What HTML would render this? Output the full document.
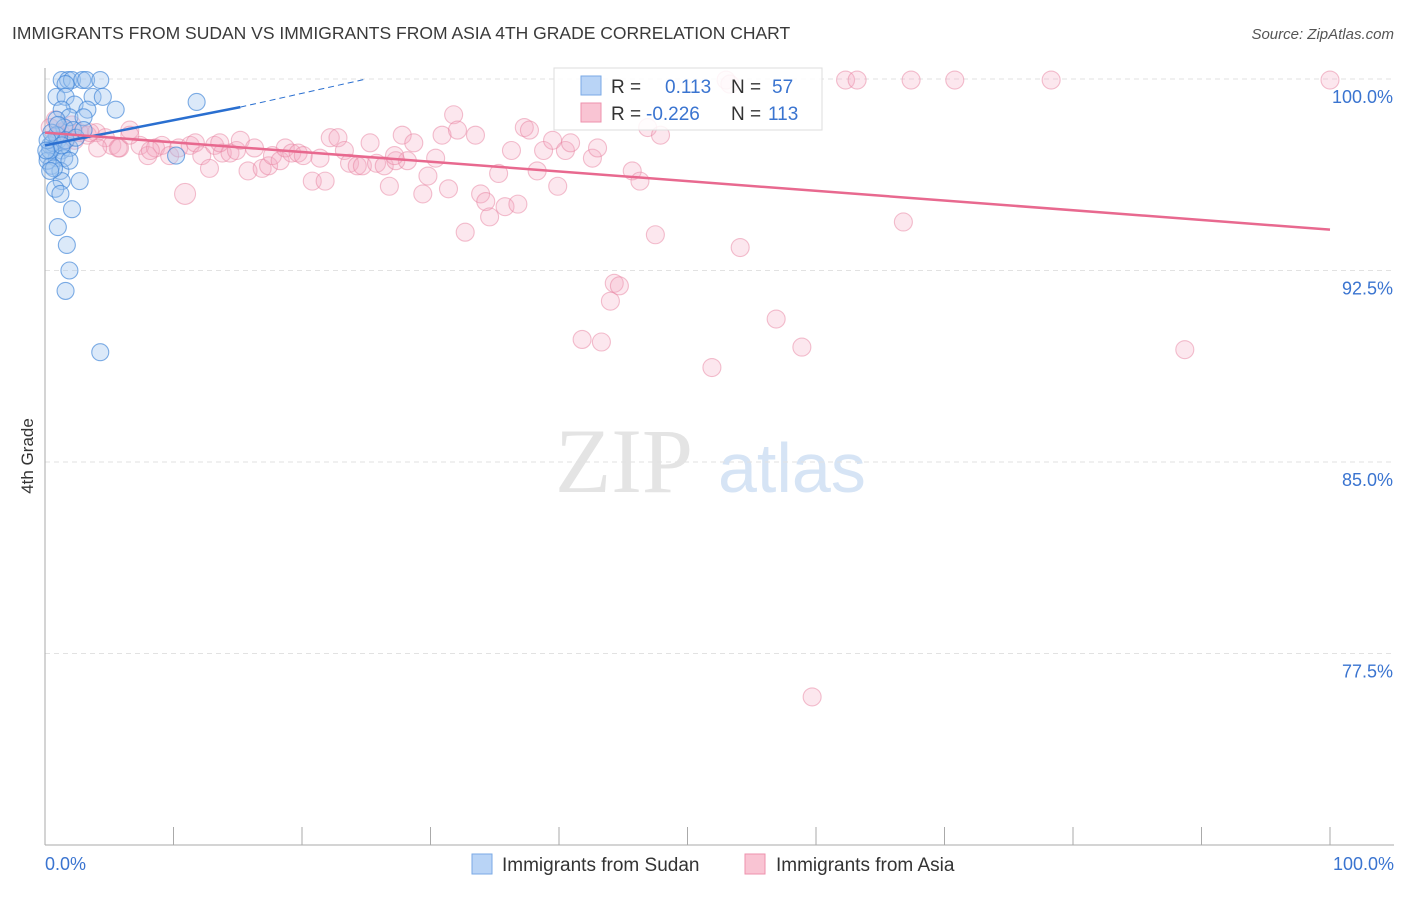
<!DOCTYPE html>
<html><head><meta charset="utf-8"><style>
body{margin:0;background:#fff;font-family:"Liberation Sans",sans-serif}
</style></head><body>
<svg id="c" width="1406" height="892" xmlns="http://www.w3.org/2000/svg">
<text x="12" y="39" font-size="17.5" fill="#3a3a3a">IMMIGRANTS FROM SUDAN VS IMMIGRANTS FROM ASIA 4TH GRADE CORRELATION CHART</text>
<text x="1394" y="39" font-size="15" fill="#555" text-anchor="end" font-style="italic">Source: ZipAtlas.com</text>
<text x="555" y="492" font-size="92" fill="#e4e4e4" font-family="Liberation Serif,serif">ZIP</text>
<text x="718" y="492" font-size="70" fill="#d6e4f5">atlas</text>
<g id="grid"></g><g id="axes"></g><g id="pts"></g><g id="trend"></g>
<text transform="translate(33,456) rotate(-90)" font-size="17" fill="#333" text-anchor="middle">4th Grade</text>
<g>
<rect x="554" y="68" width="268" height="62" fill="rgba(255,255,255,0.85)" stroke="#ddd"/>
<rect x="581" y="76" width="20" height="19" fill="#b9d4f6" stroke="#7aa9e6"/>
<rect x="581" y="103" width="20" height="19" fill="#f9c4d3" stroke="#ee92ad"/>
<text x="611" y="93" font-size="19" fill="#333">R = </text><text x="665" y="93" font-size="19" fill="#3a74d0">0.113</text>
<text x="731" y="93" font-size="19" fill="#333">N = </text><text x="772" y="93" font-size="19" fill="#3a74d0">57</text>
<text x="611" y="120" font-size="19" fill="#333">R = </text><text x="646" y="120" font-size="19" fill="#3a74d0">-0.226</text>
<text x="731" y="120" font-size="19" fill="#333">N = </text><text x="768" y="120" font-size="19" fill="#3a74d0">113</text>
</g>
<g>
<rect x="472" y="854" width="20" height="20" fill="#b9d4f6" stroke="#7aa9e6"/>
<text x="502" y="871" font-size="19" fill="#333">Immigrants from Sudan</text>
<rect x="745" y="854" width="20" height="20" fill="#f9c4d3" stroke="#ee92ad"/>
<text x="776" y="871" font-size="19" fill="#333">Immigrants from Asia</text>
</g>
</svg>
<script>
const yTicks=[100,92.5,85,77.5];
const yTickLabels=["100.0%","92.5%","85.0%","77.5%"];
const xTickLabels=["0.0%","100.0%"];
const sudanX=[1.3,1.8,2.1,2.9,3.2,4.3,1.6,0.9,1.6,3.7,4.5,2.3,1.3,3.3,5.5,1.9,3.0,11.8,0.9,1.5,2.2,1.0,0.7,1.3,1.9,0.2,0.9,1.5,0.5,1.2,0.4,0.6,2.7,1.3,0.8,1.2,2.1,1.0,1.7,1.9,1.6,4.3,10.2,0.2,0.4,0.9,1.6,2.4,3.0,0.5,1.0,0.2,0.7,1.3,1.9,0.1,0.4];
const sudanY=[99.96,99.96,99.96,99.96,99.96,99.96,99.8,99.3,99.3,99.3,99.3,99.0,98.8,98.8,98.8,98.5,98.5,99.1,98.4,98.1,98.0,97.6,97.3,97.2,97.3,97.0,96.9,96.9,96.6,96.4,97.4,97.5,96.0,96.0,95.7,95.5,94.9,94.2,93.5,92.5,91.7,89.3,97.0,96.8,97.2,97.8,97.6,97.7,98.0,97.9,98.2,97.6,96.5,97.4,96.8,97.2,96.4];
const asiaX=[0.4,0.8,1.2,1.6,2.1,2.7,3.3,4.0,4.7,5.2,5.8,6.6,7.4,8.0,8.6,9.1,9.7,10.4,10.9,11.3,11.7,12.2,12.8,13.2,13.8,14.4,14.9,15.2,15.8,16.3,16.9,17.4,17.7,18.3,18.7,19.2,19.7,20.1,20.8,21.4,21.8,22.2,22.8,23.3,23.7,24.3,24.7,25.3,25.8,26.4,26.8,27.3,27.8,28.2,28.7,29.4,29.8,30.4,30.9,31.4,31.8,32.1,32.7,33.5,33.9,34.3,34.6,35.3,35.8,36.3,36.8,37.3,37.7,38.3,38.8,39.5,39.9,40.5,40.9,41.8,42.6,43.0,43.3,44.0,44.3,44.7,45.7,46.3,46.9,47.5,47.9,51.9,53.0,53.3,54.1,56.9,58.9,59.7,62.3,63.2,66.8,67.4,70.8,78.3,88.7,100,1.6,2.3,5.7,4.1,6.6,1.0,3.5,8.2,13.6,27.2];
const asiaY=[98.1,98.4,97.9,98.0,98.2,97.9,97.8,97.9,97.7,97.4,97.3,98.0,97.4,97.0,97.3,97.4,97.0,97.3,95.5,97.4,97.5,97.0,96.5,97.4,97.1,97.1,97.2,97.6,96.4,97.3,96.5,96.6,97.0,96.8,97.3,97.1,97.1,97.0,96.0,96.9,96.0,97.7,97.7,97.2,96.7,96.6,96.6,97.5,96.7,96.6,95.8,96.8,97.8,96.8,97.5,95.5,96.2,96.9,97.8,95.7,98.6,98.0,94.0,97.8,95.5,95.2,94.6,96.3,95.0,97.2,95.1,98.1,98.0,96.4,97.2,97.6,95.8,97.2,97.5,89.8,96.9,97.3,89.7,91.3,92.0,91.9,96.4,96.0,98.1,93.9,97.8,88.7,99.96,99.8,93.4,90.6,89.5,75.8,99.96,99.96,94.4,99.96,99.96,99.96,89.4,99.96,97.6,97.6,97.3,97.3,97.8,97.8,97.9,97.2,97.5,97.0];
const sudanTrend=[[0,97.4],[15.2,98.9],[25,100]];
const asiaTrend=[[0,97.9],[100,94.1]];
const X0=45,X1=1330,Y0=79,Y1=845,YMIN=70,YMAX=100;
const xs=v=>X0+v/100*(X1-X0);
const ys=v=>Y0+(YMAX-v)/(YMAX-YMIN)*(Y1-Y0);
const NS="http://www.w3.org/2000/svg";
function mk(tag,at,par){const e=document.createElementNS(NS,tag);for(const k in at)e.setAttribute(k,at[k]);document.getElementById(par).appendChild(e);return e;}
yTicks.forEach((t,i)=>{
 const l=mk('line',{x1:X0,x2:1394,y1:ys(t),y2:ys(t),stroke:'#e2e2e2','stroke-dasharray':'5,4'},'grid');
 
 
 const tx=mk('text',{x:1393,y:ys(t)+24,'font-size':18,fill:'#3a74d0','text-anchor':'end'},'axes');
 tx.textContent=yTickLabels[i];
 
 
});
const ax=mk('line',{x1:X0,x2:X0,y1:68,y2:Y1,stroke:'#aaa'},'axes');


const bx=mk('line',{x1:X0,x2:1394,y1:Y1,y2:Y1,stroke:'#aaa'},'axes');


for(let i=1;i<=10;i++){const t=mk('line',{x1:xs(i*10),x2:xs(i*10),y1:Y1-18,y2:Y1,stroke:'#aaa'},'axes');
 
 }
[[0,'start',X0],[1,'end',1394]].forEach(([i,a,x])=>{const t=mk('text',{x:x,y:870,'font-size':18,fill:'#3a74d0','text-anchor':a},'axes');t.textContent=xTickLabels[i];
 
 });
asiaX.forEach((v,i)=>{const c=mk('circle',{cx:xs(v),cy:ys(asiaY[i]),r:(i==18?10.5:9),fill:'rgba(246,170,194,0.28)',stroke:'rgba(232,130,160,0.5)','stroke-width':1.1},'pts');
 
 });
sudanX.forEach((v,i)=>{const c=mk('circle',{cx:xs(v),cy:ys(sudanY[i]),r:8.5,fill:'rgba(160,196,240,0.38)',stroke:'rgba(60,130,215,0.65)','stroke-width':1.1},'pts');
 
 });
const s1=mk('line',{x1:xs(sudanTrend[0][0]),y1:ys(sudanTrend[0][1]),x2:xs(sudanTrend[1][0]),y2:ys(sudanTrend[1][1]),stroke:'#2a6fd0','stroke-width':2.5},'trend');


const s2=mk('line',{x1:xs(sudanTrend[1][0]),y1:ys(sudanTrend[1][1]),x2:xs(sudanTrend[2][0]),y2:ys(sudanTrend[2][1]),stroke:'#2a6fd0','stroke-width':1,'stroke-dasharray':'6,4'},'trend');


const a1=mk('line',{x1:xs(asiaTrend[0][0]),y1:ys(asiaTrend[0][1]),x2:xs(asiaTrend[1][0]),y2:ys(asiaTrend[1][1]),stroke:'#e8698f','stroke-width':2.5},'trend');


</script>
</body></html>
